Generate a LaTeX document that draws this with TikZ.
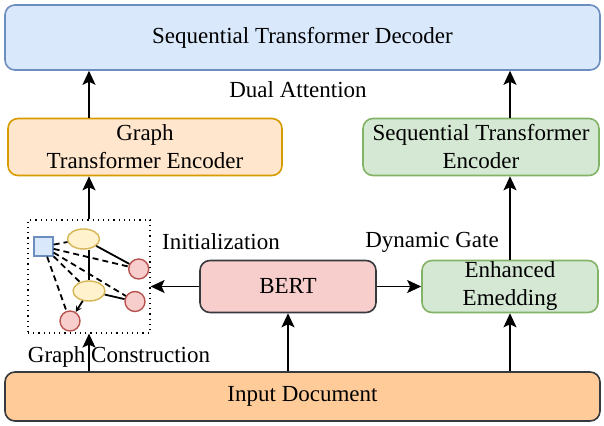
\documentclass[tikz,border=0pt]{standalone}
\usepackage{fontspec}
\setmainfont{Liberation Serif}
\usepackage{tikz}
\usetikzlibrary{shapes.geometric, arrows.meta}

\definecolor{decfill}{HTML}{DAE8FC}
\definecolor{decline}{HTML}{6C8EBF}
\definecolor{gtefill}{HTML}{FFE6CC}
\definecolor{gteline}{HTML}{D79B00}
\definecolor{seqfill}{HTML}{D5E8D4}
\definecolor{seqline}{HTML}{82B366}
\definecolor{bertfill}{HTML}{F8CECC}
\definecolor{darkline}{HTML}{36393D}
\definecolor{inpfill}{HTML}{FFCC99}
\definecolor{ellfill}{HTML}{FFF2CC}
\definecolor{ellline}{HTML}{D6B656}
\definecolor{redline}{HTML}{B85450}

\begin{document}
\begin{tikzpicture}[>={Stealth[length=7pt,width=6.5pt,inset=1.5pt]}, x=0.5pt, y=-0.5pt,
  font=\fontsize{11.5}{14}\selectfont,
  box/.style={draw, rounded corners=5pt, line width=0.8pt, align=center, inner sep=0pt},
  flow/.style={->, line width=0.8pt},
  gnode/.style={draw, line width=0.7pt, inner sep=0pt},
  gedge/.style={line width=0.9pt},
  gdash/.style={line width=0.9pt, dash pattern=on 3pt off 2pt}]
  \useasboundingbox (0,0) rectangle (604,426);

  % main blocks
  \node[box, fill=decfill, draw=decline, minimum width=297.5pt, minimum height=32.5pt] (dec) at (302.5,37.5) {Sequential Transformer Decoder};
  \node[box, fill=gtefill, draw=gteline, minimum width=137pt, minimum height=28.5pt] (gte) at (145,147) {Graph\\Transformer Encoder};
  \node[box, fill=seqfill, draw=seqline, minimum width=118pt, minimum height=28.5pt] (ste) at (481,147) {Sequential Transformer\\Encoder};
  \node[box, fill=bertfill, draw=darkline, minimum width=88pt, minimum height=26pt] (bert) at (288,286.5) {BERT};
  \node[box, fill=seqfill, draw=seqline, minimum width=88pt, minimum height=26pt] (emb) at (510,286.5) {Enhanced\\Emedding};
  \node[box, fill=inpfill, draw=darkline, minimum width=297.5pt, minimum height=24.5pt] (inp) at (302.5,396.5) {Input Document};

  % graph construction box
  \node[draw, dotted, line width=0.6pt, minimum width=61pt, minimum height=56.5pt, inner sep=0pt] (graph) at (89,276.5) {};
  \node[gnode, rectangle, fill=decfill, draw=decline, minimum size=9.5pt] (sq) at (43.5,246.5) {};
  \node[gnode, ellipse, fill=ellfill, draw=ellline, minimum width=16pt, minimum height=10pt] (e1) at (83.5,239) {};
  \node[gnode, ellipse, fill=ellfill, draw=ellline, minimum width=16pt, minimum height=10pt] (e2) at (89,291) {};
  \node[gnode, circle, fill=bertfill, draw=redline, minimum size=10pt] (c1) at (138.7,269) {};
  \node[gnode, circle, fill=bertfill, draw=redline, minimum size=10pt] (c2) at (135,301.5) {};
  \node[gnode, circle, fill=bertfill, draw=redline, minimum size=10pt] (c3) at (70,321) {};

  % graph edges
  \draw[gedge] (e1) -- (c1);
  \draw[gedge] (e2.north) -- (e2.north |- e1.south);
  \draw[gedge] (e2) -- (c2);
  \draw[gedge, -{Stealth[length=3pt,width=3pt]}] (e2) -- (c3);
  \draw[gdash] (sq) -- (e1);
  \draw[gdash] (sq) -- (c1);
  \draw[gdash] (sq) -- (e2);
  \draw[gdash] (sq) -- (c2);
  \draw[gdash] (sq) -- (c3);

  % connectors
  \draw[flow] (inp.north -| graph.south) -- (graph.south);
  \draw[flow] (inp.north -| bert.south) -- (bert.south);
  \draw[flow] (inp.north -| emb.south) -- (emb.south);
  \draw[flow] (bert.west) -- (bert.west -| graph.east);
  \draw[flow] (bert.east) -- (emb.west);
  \draw[flow] (graph.north) -- (gte.south -| graph.north);
  \draw[flow] (emb.north) -- (ste.south -| emb.north);
  \draw[flow] (gte.north -| graph.north) -- (dec.south -| graph.north);
  \draw[flow] (ste.north -| emb.north) -- (dec.south -| emb.north);

  % labels
  \node (dual) at (298,90) {Dual Attention};
  \node (init) at (221,242) {Initialization};
  \node (gate) at (432,242) {Dynamic Gate};
  \node (cons) at (119,357) {Graph Construction};
\end{tikzpicture}
\end{document}
